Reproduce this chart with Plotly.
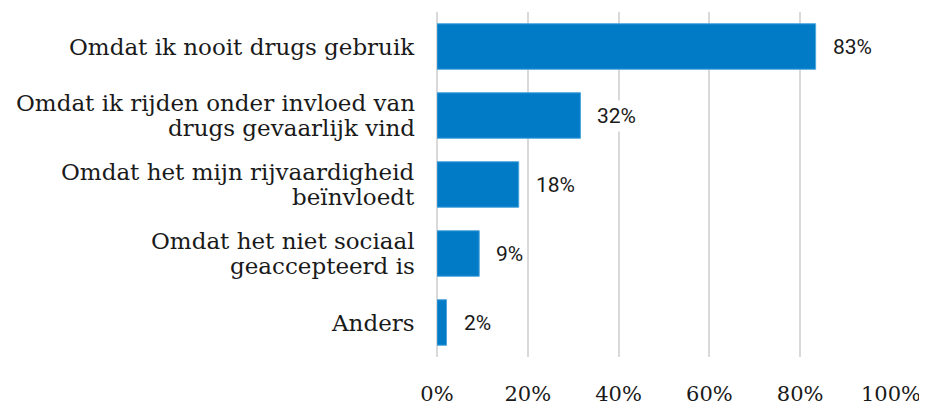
import plotly.graph_objects as go

categories = [
    "Omdat ik nooit drugs gebruik",
    "Omdat ik rijden onder invloed van<br>drugs gevaarlijk vind",
    "Omdat het mijn rijvaardigheid<br>beïnvloedt",
    "Omdat het niet sociaal<br>geaccepteerd is",
    "Anders",
]
values = [83.4, 31.6, 18.0, 9.3, 2.1]
value_labels = ["83%", "32%", "18%", "9%", "2%"]
tick_vals = [0, 20, 40, 60, 80, 100]
tick_text = ["0%", "20%", "40%", "60%", "80%", "100%"]

LINE_H = 25

fig = go.Figure()
fig.add_trace(go.Bar(
    x=values, y=categories, orientation="h",
    marker=dict(color="#027BC7", line=dict(color="#4DA6DE", width=1)),
    hoverinfo="skip",
))

for c, v, t in zip(categories, values, value_labels):
    fig.add_annotation(
        x=v, y=c, xref="x", yref="y", text=t, showarrow=False,
        xanchor="left", xshift=13, bgcolor="white", borderpad=3,
        font=dict(family="Roboto", size=21, color="#1a1a1a"),
    )
    lines = c.split("<br>")
    n = len(lines)
    for i, ln in enumerate(lines):
        fig.add_annotation(
            x=0, y=c, xref="paper", yref="y", text=ln, showarrow=False,
            xanchor="right", yanchor="middle", xshift=-20,
            yshift=((n - 1) / 2 - i) * LINE_H,
            font=dict(family="DejaVu Serif", size=23, color="#1a1a1a"),
        )

fig.update_layout(
    width=919, height=397,
    margin=dict(l=429, r=36, t=4, b=48),
    paper_bgcolor="white", plot_bgcolor="white",
    bargap=0.34, showlegend=False,
    xaxis=dict(
        range=[0, 100], tickvals=tick_vals, ticktext=tick_text,
        showgrid=True, gridcolor="#D9D9D9", gridwidth=2,
        zeroline=True, zerolinecolor="#D9D9D9", zerolinewidth=2,
        showline=False, automargin=False,
        ticklabelstandoff=22,
        tickfont=dict(family="DejaVu Serif", size=21, color="#1a1a1a"),
    ),
    yaxis=dict(
        autorange="reversed", showgrid=False, zeroline=False, showline=False,
        showticklabels=False, automargin=False,
    ),
)

fig.write_html("out.html")
